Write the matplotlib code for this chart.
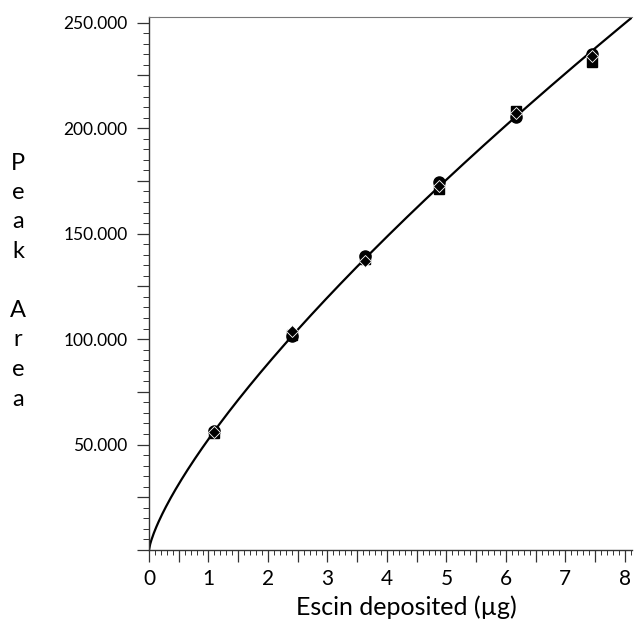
import matplotlib.pyplot as plt
import numpy as np
from matplotlib.ticker import MultipleLocator, FuncFormatter

plt.rcParams['font.family'] = ['Lato', 'DejaVu Sans']

# amount of escin deposited (ug), one level per replicate group
dose = [1.1, 2.4, 3.63, 4.87, 6.17, 7.44]

# three replicate series of peak area (x1000)
rep_square = [55.5, 102.0, 138.0, 171.0, 208.0, 231.5]
rep_circle = [56.5, 101.5, 139.5, 174.5, 205.5, 235.0]
rep_diamond = [56.0, 103.8, 137.0, 172.5, 207.0, 234.0]

# power law calibration through the origin, y = a * x^b
xs = np.array(dose * 3)
ys = np.array(rep_square + rep_circle + rep_diamond)
b, log_a = np.polyfit(np.log(xs), np.log(ys), 1)
a = np.exp(log_a)

fig = plt.figure(figsize=(6.34, 6.23), dpi=100)
ax = fig.add_axes([149 / 634, 1 - 550 / 623, 483 / 634, 533 / 623])

x_fit = np.linspace(0, 8.12, 400)
ax.plot(x_fit, a * x_fit ** b, color='black', lw=1.6, zorder=2)

ax.plot(dose, rep_square, 's', color='black', ms=7.5, zorder=3)
ax.plot(dose, rep_circle, 'o', color='black', ms=8, zorder=3)
ax.plot(dose, rep_diamond, 'D', color='black', mec='white', mew=0.6, ms=6.5, zorder=4)

ax.set_xlim(0, 8.12)
ax.set_ylim(0, 252.7)

ax.spines['right'].set_visible(False)
ax.spines['top'].set_color('#777777')
ax.spines['top'].set_linewidth(0.8)
for s in ['left', 'bottom']:
    ax.spines[s].set_linewidth(1.0)
    ax.spines[s].set_color('#333333')

ax.xaxis.set_major_locator(MultipleLocator(0.5))
ax.xaxis.set_minor_locator(MultipleLocator(0.1))
ax.yaxis.set_major_locator(MultipleLocator(25))
ax.yaxis.set_minor_locator(MultipleLocator(5))

ax.xaxis.set_major_formatter(FuncFormatter(
    lambda v, p: '%d' % round(v) if abs(v - round(v)) < 1e-6 else ''))
ax.yaxis.set_major_formatter(FuncFormatter(
    lambda v, p: '%d.000' % round(v) if (round(v) % 50 == 0 and v > 0) else ''))

ax.tick_params(axis='x', which='major', direction='out', length=8.5, width=0.9,
               labelsize=15, pad=5, color='#333333')
ax.tick_params(axis='x', which='minor', direction='out', length=3.8, width=0.7,
               color='#333333')
ax.tick_params(axis='y', which='major', direction='out', length=8.5, width=0.9,
               labelsize=12.5, pad=7, color='#333333')
ax.tick_params(axis='y', which='minor', direction='out', length=4.3, width=0.7,
               color='#333333')

ax.set_xlabel('Escin deposited (µg)', fontsize=18)
ax.xaxis.set_label_coords(0.532, -0.085)
ax.xaxis.label.set_va('top')

fig.text(18 / 634, 1 - 281 / 623, 'P\ne\na\nk\n\nA\nr\ne\na', fontsize=17,
         ha='center', va='center', linespacing=1.5)

fig.savefig('out.png', dpi=100)
